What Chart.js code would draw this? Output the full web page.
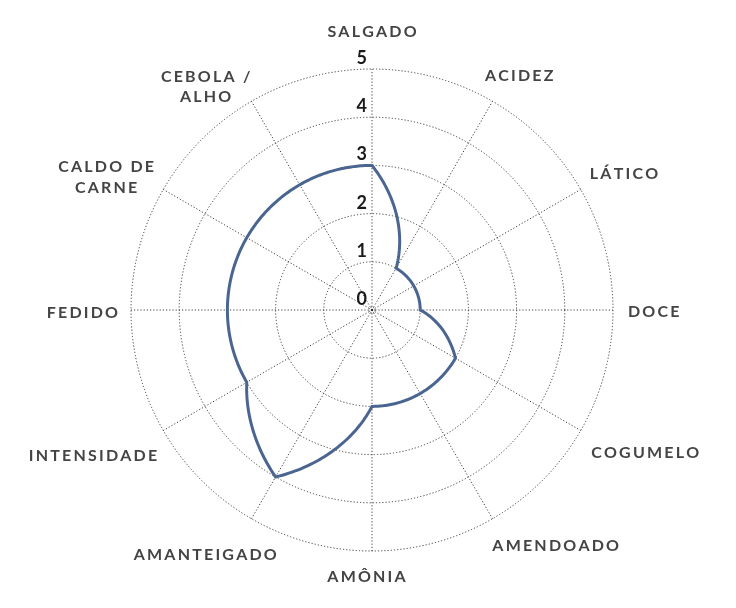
<!DOCTYPE html>
<html>
<head>
<meta charset="utf-8">
<style>
  html, body { margin: 0; padding: 0; background: #ffffff; }
  #wrap { width: 736px; height: 608px; }
</style>
<script src="https://cdn.jsdelivr.net/npm/chart.js"></script>
</head>
<body>
<div id="wrap"><canvas id="c" width="736" height="608"></canvas></div>
<script>
// ---- data ----
const CATEGORIES = [
  'SALGADO', 'ACIDEZ', 'LÁTICO', 'DOCE', 'COGUMELO', 'AMENDOADO',
  'AMÔNIA', 'AMANTEIGADO', 'INTENSIDADE', 'FEDIDO', ['CALDO DE', 'CARNE'], ['CEBOLA /', 'ALHO']
];
const VALUES = [3, 1, 1, 1, 2, 2, 2, 4, 3, 3, 3, 3];
const TICK_MIN = 0;
const TICK_MAX = 5;
const TICK_STEP = 1;

// ---- styles ----
const LINE_COLOR = '#4a6590';
const GRID_COLOR = 'rgba(45,45,45,0.9)';
const LABEL_COLOR = '#444444';
const TICK_COLOR = '#1a1a1a';
const LABEL_FONT = '700 16px Lato, "Noto Sans", sans-serif';
const TICK_FONT = '700 18px Lato, "Noto Sans", sans-serif';
const LABEL_SPACING = 2.2;
const LABEL_CAP = 11.6;
const LABEL_LINE_GAP = 20.7;
const LABEL_GAP = 17;
// per-label fine offsets (px) for the category text
const LABEL_NUDGE = [
  [0, -15.5], [1, -6.4], [-1, -4.5], [-2, 1], [3, 10], [23, 7],
  [-5.5, 2], [-2, 16], [0, 13], [4, 2], [-1, 3.5], [-15, 13.5]
];

function spacedWidth(ctx, text, ls) {
  let w = 0;
  for (const ch of text) w += ctx.measureText(ch).width;
  return w + ls * Math.max(0, [...text].length - 1);
}
function drawSpaced(ctx, text, x, y, ls) {
  let cx = x;
  for (const ch of text) {
    ctx.fillText(ch, cx, y);
    cx += ctx.measureText(ch).width + ls;
  }
}

const polarLinePlugin = {
  id: 'polarLine',
  beforeDatasetsDraw(chart) {
    const scale = chart.scales.r;
    const ctx = chart.ctx;
    // innermost (zero) ring
    ctx.save();
    ctx.strokeStyle = GRID_COLOR;
    ctx.lineWidth = 1;
    ctx.setLineDash([1, 1.5]);
    ctx.beginPath();
    ctx.arc(scale.xCenter, scale.yCenter, 3, 0, Math.PI * 2);
    ctx.stroke();
    ctx.restore();
  },
  afterDatasetsDraw(chart) {
    const scale = chart.scales.r;
    const ctx = chart.ctx;
    const data = chart.data.datasets[0].data;
    const n = data.length;
    const steps = 40;
    ctx.save();
    ctx.beginPath();
    for (let i = 0; i < n; i++) {
      const a = data[i], b = data[(i + 1) % n];
      for (let s = 0; s < steps; s++) {
        const t = s / steps;
        const v = a + (b - a) * t;
        const p = scale.getPointPosition(i + t, scale.getDistanceFromCenterForValue(v));
        if (i === 0 && s === 0) ctx.moveTo(p.x, p.y); else ctx.lineTo(p.x, p.y);
      }
    }
    ctx.closePath();
    ctx.strokeStyle = LINE_COLOR;
    ctx.lineWidth = 3;
    ctx.lineJoin = 'miter';
    ctx.stroke();
    ctx.restore();

    // tick labels
    ctx.save();
    ctx.font = TICK_FONT;
    ctx.fillStyle = TICK_COLOR;
    ctx.textAlign = 'right';
    ctx.textBaseline = 'alphabetic';
    scale.ticks.forEach(tick => {
      const d = scale.getDistanceFromCenterForValue(tick.value);
      ctx.fillText(String(tick.value), scale.xCenter - 5, scale.yCenter - d - 5);
    });
    ctx.restore();

    // category labels
    ctx.save();
    ctx.font = LABEL_FONT;
    ctx.fillStyle = LABEL_COLOR;
    ctx.textAlign = 'left';
    ctx.textBaseline = 'alphabetic';
    const labels = chart.data.labels;
    labels.forEach((lab, i) => {
      const lines = Array.isArray(lab) ? lab : [lab];
      const widths = lines.map(l => spacedWidth(ctx, l, LABEL_SPACING));
      const w = Math.max(...widths);
      const h = LABEL_CAP + (lines.length - 1) * LABEL_LINE_GAP;
      const ang = scale.getIndexAngle(i);
      const sin = Math.sin(ang), cos = Math.cos(ang);
      const R = scale.drawingArea + LABEL_GAP;
      const cx = scale.xCenter + sin * (R + w / 2) + LABEL_NUDGE[i][0];
      const cy = scale.yCenter - cos * (R + h / 2) + LABEL_NUDGE[i][1];
      const top = cy - h / 2;
      lines.forEach((l, k) => {
        drawSpaced(ctx, l, cx - widths[k] / 2, top + LABEL_CAP + k * LABEL_LINE_GAP, LABEL_SPACING);
      });
    });
    ctx.restore();
  }
};

new Chart(document.getElementById('c'), {
  type: 'radar',
  data: {
    labels: CATEGORIES,
    datasets: [{
      data: VALUES,
      borderColor: LINE_COLOR,
      borderWidth: 0,
      backgroundColor: 'rgba(0,0,0,0)',
      fill: false,
      pointRadius: 0,
      pointHoverRadius: 0
    }]
  },
  options: {
    responsive: false,
    animation: false,
    devicePixelRatio: 1,
    layout: { padding: { left: 131, right: 123, top: 69, bottom: 57 } },
    plugins: { legend: { display: false }, tooltip: { enabled: false } },
    scales: {
      r: {
        min: TICK_MIN,
        max: TICK_MAX,
        ticks: { stepSize: TICK_STEP, display: false },
        pointLabels: { display: false },
        grid: { circular: true, color: GRID_COLOR, lineWidth: 1 },
        border: { dash: [1.2, 2] },
        angleLines: { color: GRID_COLOR, lineWidth: 1, borderDash: [1.2, 2] }
      }
    }
  },
  plugins: [polarLinePlugin]
});
</script>
</body>
</html>
